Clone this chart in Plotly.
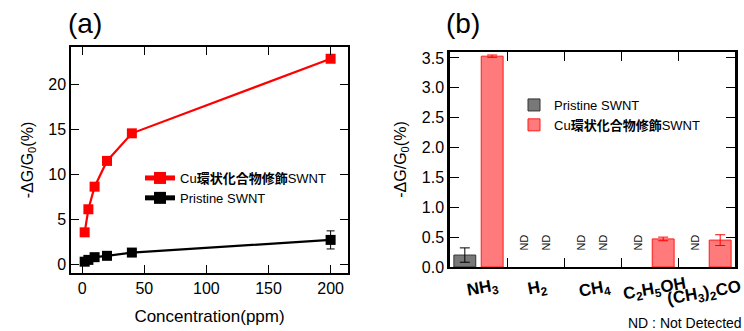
import plotly.graph_objects as go

# ---- data: panel (a)
conc = [2, 5, 10, 20, 40, 200]
cu_resp = [3.6, 6.15, 8.65, 11.5, 14.55, 22.8]
pristine_resp = [0.35, 0.55, 0.85, 1.0, 1.36, 2.76]
pristine_err = [0, 0, 0, 0, 0, 1.0]
cu_err = [0, 0, 0, 0, 0, 0]

# ---- data: panel (b)
gases = ["NH3", "H2", "CH4", "C2H5OH", "(CH3)2CO"]
gas_labels = ["NH<sub>3</sub>", "H<sub>2</sub>", "CH<sub>4</sub>", "C<sub>2</sub>H<sub>5</sub>OH", "(CH<sub>3</sub>)<sub>2</sub>CO"]
pristine_bar = [0.2, None, None, None, None]
pristine_bar_err = [0.12, 0, 0, 0, 0]
cu_bar = [3.53, None, None, 0.47, 0.45]
cu_bar_err = [0.02, 0, 0, 0.03, 0.09]

name_cu = "Cu<b>環状化合物修飾</b>SWNT"
name_pr = "Pristine SWNT"
FONT = "Liberation Sans, Arial, Noto Sans CJK JP, sans-serif"

fig = go.Figure()

# panel (a)
fig.add_trace(go.Scatter(
    x=conc, y=cu_resp, mode="lines+markers", name=name_cu,
    line=dict(color="#ff0000", width=2.2),
    marker=dict(symbol="square", size=10, color="#ff0000"),
    error_y=dict(type="data", array=cu_err, color="#ff0000", thickness=1, width=4),
    xaxis="x", yaxis="y", legend="legend"))
fig.add_trace(go.Scatter(
    x=conc, y=pristine_resp, mode="lines+markers", name=name_pr,
    line=dict(color="#000000", width=2.2),
    marker=dict(symbol="square", size=10, color="#000000"),
    error_y=dict(type="data", array=pristine_err, color="#000000", thickness=1, width=4),
    xaxis="x", yaxis="y", legend="legend"))

# panel (b)
fig.add_trace(go.Bar(
    x=gases, y=pristine_bar, name=name_pr,
    marker=dict(color="#787878", line=dict(color="#333333", width=1)),
    error_y=dict(type="data", array=pristine_bar_err, color="#000000", thickness=1, width=5),
    xaxis="x2", yaxis="y2", legend="legend2"))
fig.add_trace(go.Bar(
    x=gases, y=cu_bar, name=name_cu,
    marker=dict(color="#ff7b7b", line=dict(color="#ff1a1a", width=1)),
    error_y=dict(type="data", array=cu_bar_err, color="#ff0000", thickness=1, width=5),
    xaxis="x2", yaxis="y2", legend="legend2"))

annotations = []
# ND labels
for i, g in enumerate(gases):
    if pristine_bar[i] is None:
        annotations.append(dict(x=g, y=0.4, xref="x2", yref="y2", text="ND", textangle=-90,
                                showarrow=False, xshift=-11, font=dict(size=11, color="#111", family=FONT)))
    if cu_bar[i] is None:
        annotations.append(dict(x=g, y=0.4, xref="x2", yref="y2", text="ND", textangle=-90,
                                showarrow=False, xshift=11, font=dict(size=11, color="#111", family=FONT)))
# category labels of (b)
label_dx = [4, 2, 2, 5, -2]
label_dy = [-6, -7, -7, -4, -7]
for i, (g, lab) in enumerate(zip(gases, gas_labels)):
    annotations.append(dict(x=g, y=0, xref="x2", yref="y2", text="<b>" + lab + "</b>", textangle=-10,
                            showarrow=False, yanchor="top", yshift=label_dy[i], xshift=label_dx[i],
                            font=dict(size=17, color="#000", family=FONT)))
# panel letters and footnote
annotations.append(dict(x=66 / 744, y=1 - 6 / 331, xref="paper", yref="paper", text="(a)", showarrow=False,
                        xanchor="left", yanchor="top", font=dict(size=28, color="#000", family=FONT)))
annotations.append(dict(x=444 / 744, y=1 - 6 / 331, xref="paper", yref="paper", text="(b)", showarrow=False,
                        xanchor="left", yanchor="top", font=dict(size=28, color="#000", family=FONT)))
annotations.append(dict(x=1.0, y=-2 / 331, xref="paper", yref="paper", text="ND : Not Detected",
                        showarrow=False, xanchor="right", yanchor="bottom",
                        font=dict(size=14, color="#000", family=FONT)))

axis_common = dict(showline=True, linecolor="#000", mirror="ticks", tickcolor="#000", automargin=False,
                   showgrid=False, zeroline=False, tickfont=dict(size=16, color="#000", family=FONT))

fig.update_layout(
    width=744, height=331, margin=dict(l=0, r=0, t=0, b=0),
    paper_bgcolor="white", plot_bgcolor="white",
    font=dict(family=FONT, color="#000"),
    barmode="group", bargap=0.04, bargroupgap=0.2,
    xaxis=dict(domain=[71 / 744, 348 / 744], range=[-9, 214], tickvals=[0, 50, 100, 150, 200],
               ticks="inside", ticklen=8, linewidth=1.5, anchor="y",
               title=dict(text="Concentration(ppm)", font=dict(size=17), standoff=14), **axis_common),
    yaxis=dict(domain=[1 - 273 / 331, 1 - 47 / 331], range=[-0.9, 24.1], tickvals=[0, 5, 10, 15, 20],
               ticks="inside", ticklen=8, linewidth=1.5, anchor="x",
               title=dict(text="-ΔG/G<sub>0</sub>(%)", font=dict(size=16), standoff=11), **axis_common),
    xaxis2=dict(domain=[450 / 744, 735 / 744], type="category", categoryorder="array", categoryarray=gases,
                range=[-0.5, len(gases) - 0.5], tickson="boundaries",
                ticks="inside", ticklen=9, linewidth=2, showticklabels=False, anchor="y2", **axis_common),
    yaxis2=dict(domain=[1 - 267 / 331, 1 - 52 / 331], range=[0, 3.6], dtick=0.5, tickformat=".1f",
                ticks="inside", ticklen=9, linewidth=2.5, anchor="x2",
                title=dict(text="-ΔG/G<sub>0</sub>(%)", font=dict(size=16), standoff=12), **axis_common),
    legend=dict(x=140 / 744, y=1 - 163 / 331, xanchor="left", yanchor="top", bgcolor="rgba(0,0,0,0)",
                font=dict(size=13, family=FONT), tracegroupgap=0, itemsizing="constant"),
    legend2=dict(x=514 / 744, y=1 - 90 / 331, xanchor="left", yanchor="top", bgcolor="rgba(0,0,0,0)",
                 font=dict(size=13, family=FONT), tracegroupgap=0),
    annotations=annotations,
    showlegend=True,
)

fig.write_html("out.html", config={"displayModeBar": False},
               post_script="document.body.style.margin='0';document.body.style.padding='0';")
